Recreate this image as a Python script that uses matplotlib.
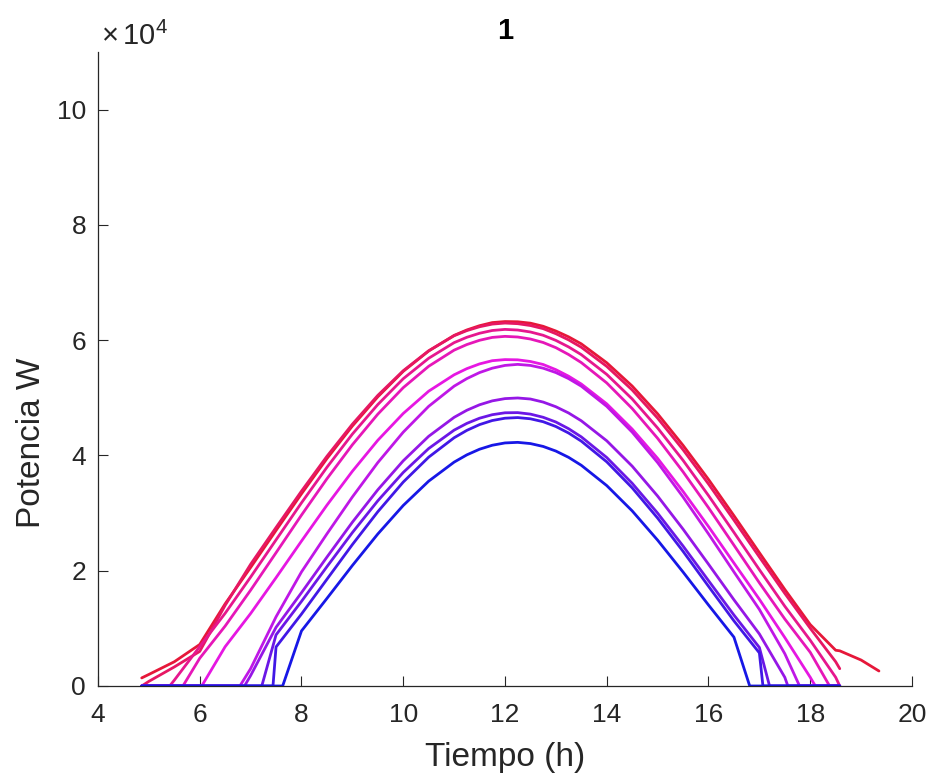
import matplotlib
matplotlib.use("Agg")
import matplotlib.pyplot as plt
import numpy as np
from matplotlib.colors import hsv_to_rgb
from matplotlib.ticker import FuncFormatter

plt.rcParams["font.family"] = ["Liberation Sans", "DejaVu Sans"]
plt.rcParams["mathtext.fontset"] = "custom"
plt.rcParams["mathtext.rm"] = "Liberation Sans"
plt.rcParams["mathtext.default"] = "regular"

# Time grid (h) shared by the daily power profiles (denser around noon)
hours = [4.86, 5.0, 5.5, 6.0, 6.5, 7.0, 7.5, 8.0, 8.5, 9.0, 9.5, 10.0, 10.5,
         11.0, 11.25, 11.5, 11.75, 12.0, 12.25, 12.5, 12.75, 13.0, 13.25,
         13.5, 14.0, 14.5, 15.0, 15.5, 16.0, 16.5, 17.0, 17.5, 18.0, 18.5,
         18.58]
# The longest day keeps producing after 18.58 h
hours_long = hours + [19.0, 19.35]

# Power (W) of each profile on the time grid
p01 = [0, 0, 0, 0, 0, 0, 0, 9550, 15190, 20900, 26370, 31320, 35540, 38840,
       40100, 41080, 41770, 42170, 42270, 42060, 41560, 40760, 39670, 38290,
       34770, 30380, 25300, 19770, 14050, 8470, 0, 0, 0, 0, 0]
p02 = [0, 0, 0, 0, 0, 0, 6770, 12480, 18510, 24530, 30230, 35380, 39700,
       43070, 44350, 45350, 46060, 46460, 46570, 46360, 45850, 45020, 43890,
       42480, 38890, 34380, 29130, 23360, 17300, 11300, 5740, 0, 0, 0, 0]
p03 = [0, 0, 0, 0, 0, 0, 8870, 14680, 20700, 26610, 32130, 37050, 41200,
       44390, 45560, 46460, 47070, 47400, 47430, 47170, 46620, 45800, 44640,
       43220, 39640, 35170, 29990, 24280, 18280, 12310, 6680, 0, 0, 0, 0]
p04 = [0, 0, 0, 0, 0, 1800, 10180, 16190, 22360, 28410, 34040, 39070, 43320,
       46610, 47840, 48790, 49470, 49860, 49970, 49790, 49260, 48450, 47370,
       46010, 42540, 38140, 32950, 27210, 21130, 14960, 9030, 1500, 0, 0, 0]
p05 = [0, 0, 0, 0, 0, 3000, 12000, 19790, 26390, 32790, 38760, 44040, 48520,
       52020, 53330, 54380, 55140, 55620, 55800, 55620, 55140, 54380, 53330,
       52020, 48520, 44040, 38760, 32790, 26390, 19790, 13280, 5600, 0, 0, 0]
p06 = [0, 0, 0, 0, 6820, 12570, 18790, 25140, 31370, 37250, 42630, 47280,
       51150, 53990, 55060, 55880, 56440, 56630, 56590, 56300, 55780, 54880,
       53750, 52390, 48950, 44570, 39490, 33760, 27660, 21330, 15040, 8400,
       1500, 0, 0]
p07 = [0, 0, 0, 4810, 10400, 16620, 23120, 29650, 35950, 41850, 47160, 51760,
       55470, 58270, 59240, 59980, 60480, 60660, 60550, 60200, 59600, 58700,
       57510, 56110, 52580, 48140, 42970, 37160, 30930, 24430, 17900, 11620,
       5840, 0, 0]
p08 = [0, 0, 1000, 6830, 12620, 18890, 25350, 31780, 37940, 43700, 48830,
       53310, 56860, 59570, 60500, 61200, 61680, 61870, 61760, 61420, 60850,
       59960, 58830, 57490, 54060, 49800, 44760, 39150, 33040, 26650, 20180,
       13830, 7930, 1500, 0]
p09 = [0, 800, 3300, 6000, 14000, 21110, 27500, 33810, 39850, 45420, 50420,
       54700, 58160, 60770, 61660, 62330, 62790, 62970, 62860, 62540, 62000,
       61120, 60050, 58770, 55450, 51360, 46470, 40990, 35050, 28780, 22380,
       16060, 10010, 4200, 3000]
p10 = [1400, 2000, 4200, 7200, 14260, 20560, 26990, 33340, 39450, 45100,
       50170, 54590, 58120, 60830, 61770, 62510, 63050, 63230, 63190, 62950,
       62410, 61590, 60580, 59360, 56080, 52040, 47220, 41750, 35840, 29550,
       23130, 16750, 10650, 6200, 6100, 4500, 2600]

# Instants (h) where production starts / stops; None = no zero crossing
t_on = [7.63, 7.44, 7.22, 6.88, 6.79, 6.04, 5.67, 5.41, None, None]
t_off = [16.81, 17.07, 17.2, 17.56, 17.79, 18.1, 18.38, 18.58, None, None]

profiles = [p01, p02, p03, p04, p05, p06, p07, p08, p09, p10]
grids = [hours] * 9 + [hours_long]


def build(t, p, ton, toff):
    """Polyline of one profile, touching zero at the start/stop instants."""
    if ton is None:
        return list(t), list(p)
    xs, ys = [], []
    for ti, pi in zip(t, p):
        if ti < ton:
            xs.append(ti)
            ys.append(pi)
    xs.append(ton)
    ys.append(0)
    for ti, pi in zip(t, p):
        if ton < ti < toff:
            xs.append(ti)
            ys.append(pi)
    xs.append(toff)
    ys.append(0)
    for ti, pi in zip(t, p):
        if ti > toff:
            xs.append(ti)
            ys.append(pi)
    return xs, ys


hues = np.linspace(240, 350, len(profiles)) / 360.0
colors = [hsv_to_rgb((h, 0.9, 0.9)) for h in hues]

fig = plt.figure(figsize=(9.33, 7.83), dpi=100)
ax = fig.add_axes([0.105, 0.1239, 0.8725, 0.8097])

# red (longest days) first, blue last so it sits on top
for k in reversed(range(len(profiles))):
    xs, ys = build(grids[k], profiles[k], t_on[k], t_off[k])
    ax.plot(xs, ys, color=colors[k], lw=2.0, solid_joinstyle="round",
            solid_capstyle="round")

ax.set_xlim(4, 20)
ax.set_ylim(0, 110000)
ax.set_xticks(np.arange(4, 21, 2))
ax.set_yticks(np.arange(0, 100001, 20000))
ax.yaxis.set_major_formatter(FuncFormatter(lambda v, _: f"{v / 1e4:g}"))

for side in ("top", "right"):
    ax.spines[side].set_visible(False)
for side in ("left", "bottom"):
    ax.spines[side].set_color("#262626")
    ax.spines[side].set_linewidth(0.9)

txt = "#262626"
ax.tick_params(axis="both", direction="in", length=7, width=0.8,
               colors=txt, labelsize=19)
ax.tick_params(axis="x", pad=12)
ax.tick_params(axis="y", pad=8.6)

ax.set_xlabel("Tiempo (h)", fontsize=24, color=txt)
ax.xaxis.set_label_coords(0.5, -0.088)
ax.set_ylabel("Potencia W", fontsize=24, color=txt)
ax.yaxis.set_label_coords(-0.0626, 0.383)
ax.set_title("1", fontsize=21, fontweight="bold", pad=9)

fig.text(101 / 933, 1 - 45 / 783, r"$\times\,10^{4}$", fontsize=21,
         color=txt, ha="left", va="baseline")

fig.savefig("out.png", dpi=100)
